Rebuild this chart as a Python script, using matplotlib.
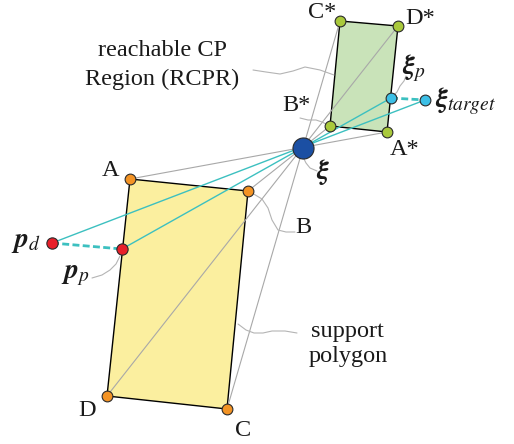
import numpy as np
import matplotlib
matplotlib.use('Agg')
import matplotlib.pyplot as plt
from matplotlib.patches import Polygon

plt.rcParams['font.family'] = ['Liberation Serif', 'DejaVu Serif']
plt.rcParams['mathtext.fontset'] = 'stix'

# corner points in picture coordinates (x right, y down)
support_names = ['A', 'B', 'C', 'D']
support_x = [130, 248, 227, 107]
support_y = [179, 191, 409, 396]

rcpr_names = ['A*', 'B*', 'C*', 'D*']
rcpr_x = [387, 330, 340, 398]
rcpr_y = [132, 126, 21, 26]

xi = (303, 148)
xi_p = (391, 98)
xi_target = (425, 100)
p_d = (52, 243)
p_p = (122, 249)

# label positions
label_pos = {
    'A': (111, 170), 'B': (303, 227), 'C': (243, 430), 'D': (87, 410),
    'A*': (405, 149), 'B*': (296, 105), 'C*': (322, 13), 'D*': (420, 18),
}

# leader (callout) lines
leaders = [
    ([253, 266, 280, 293, 305, 320, 334], [70, 72, 74, 71, 67, 70, 75]),
    ([300, 308, 316, 322, 328], [118, 120, 120, 122, 125]),
    ([252, 262, 268, 272, 278, 286, 295], [193, 199, 208, 220, 230, 232, 232]),
    ([238, 246, 254, 263, 272, 285, 297], [324, 330, 333, 333, 331, 331, 333]),
    ([303, 306, 310, 317], [157, 163, 168, 171]),
    ([120, 116, 110, 102, 92], [256, 264, 270, 275, 278]),
    ([406, 404, 400, 397, 393], [76, 81, 86, 92, 96]),
]

fig = plt.figure(figsize=(5.14, 4.44), dpi=100)
ax = fig.add_axes([0, 0, 1, 1])
ax.set_xlim(0, 514)
ax.set_ylim(444, 0)
ax.axis('off')

gray = '#a8a8a8'
cyan = '#3cc0c0'
ink = '#1a1a1a'

ax.add_patch(Polygon(list(zip(support_x, support_y)), closed=True,
                     facecolor='#fbef9f', edgecolor='black', lw=1.0, zorder=1))
ax.add_patch(Polygon(list(zip(rcpr_x, rcpr_y)), closed=True,
                     facecolor='#c9e3b9', edgecolor='black', lw=1.0, zorder=1))

# gray rays through xi, from support corners to RCPR corners
for i in range(4):
    ax.plot([support_x[i], rcpr_x[i]], [support_y[i], rcpr_y[i]],
            color=gray, lw=0.8, zorder=2)

# cyan rays
ax.plot([p_d[0], xi_target[0]], [p_d[1], xi_target[1]], color=cyan, lw=1.0, zorder=2)
ax.plot([p_p[0], xi_p[0]], [p_p[1], xi_p[1]], color=cyan, lw=1.0, zorder=2)
ax.plot([p_d[0], p_p[0]], [p_d[1], p_p[1]], color=cyan, lw=2.0, ls=(0, (2.5, 1.2)), zorder=2)
ax.plot([xi_p[0], xi_target[0]], [xi_p[1], xi_target[1]], color=cyan, lw=2.0,
        ls=(0, (2.5, 1.2)), zorder=2)

for lx, ly in leaders:
    ax.plot(lx, ly, color='#b4b4b4', lw=0.8, zorder=2, solid_capstyle='round')

s_small = 60
ax.scatter(support_x, support_y, s=s_small, color='#f39324', edgecolor='#2a2a2a',
           lw=0.8, zorder=4)
ax.scatter(rcpr_x, rcpr_y, s=s_small, color='#a9c93b', edgecolor='#2a2a2a',
           lw=0.8, zorder=4)
ax.scatter([xi_p[0], xi_target[0]], [xi_p[1], xi_target[1]], s=s_small,
           color='#3cbfe6', edgecolor='#2a2a2a', lw=0.8, zorder=4)
ax.scatter([p_d[0], p_p[0]], [p_d[1], p_p[1]], s=66, color='#e8202a',
           edgecolor='#2a2a2a', lw=0.8, zorder=4)
ax.scatter([xi[0]], [xi[1]], s=230, color='#1b4fa3', edgecolor='#2a2a2a',
           lw=0.8, zorder=4)

fs = 17.5
mfs = 20
for name, (x, y) in label_pos.items():
    ax.text(x, y, name, fontsize=fs, ha='center', va='center', color=ink)

ax.text(162, 51, 'reachable CP', fontsize=fs, ha='center', va='center', color=ink)
ax.text(162, 79, 'Region (RCPR)', fontsize=fs, ha='center', va='center', color=ink)
ax.text(347, 331, 'support', fontsize=fs, ha='center', va='center', color=ink)
ax.text(348, 356, 'polygon', fontsize=fs, ha='center', va='center', color=ink)

ax.text(316, 172, r'$\mathbfit{\xi}$', fontsize=mfs, ha='left', va='center', color=ink)
ax.text(402, 68, r'$\mathbfit{\xi}_{p}$', fontsize=mfs, ha='left', va='center', color=ink)
ax.text(435, 101, r'$\mathbfit{\xi}_{target}$', fontsize=mfs, ha='left', va='center',
        color=ink)
ax.text(11, 242, r'$\mathbfit{p}_{d}$', fontsize=mfs, ha='left', va='center', color=ink)
ax.text(61, 275, r'$\mathbfit{p}_{p}$', fontsize=mfs, ha='left', va='center', color=ink)

fig.savefig('out.png', dpi=100)
